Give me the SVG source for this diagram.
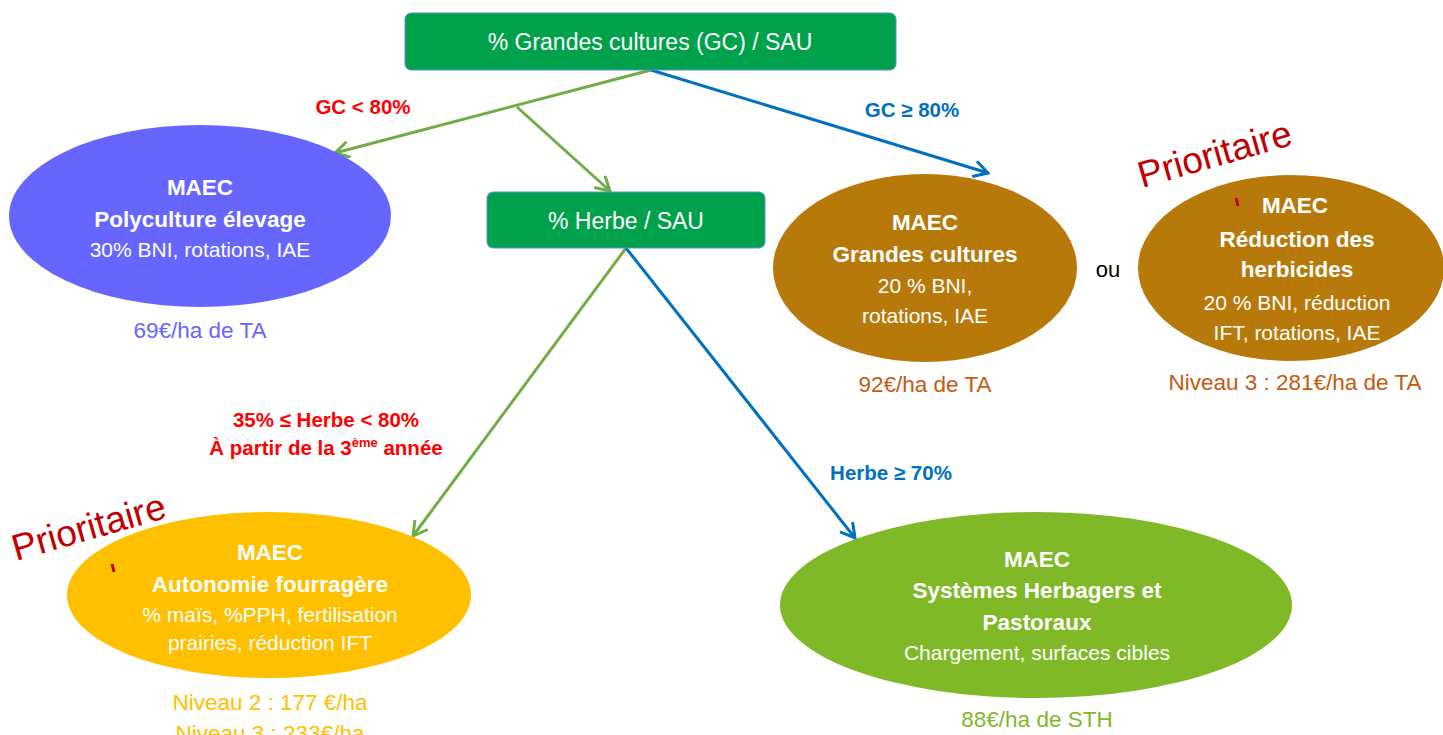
<svg xmlns="http://www.w3.org/2000/svg" width="1443" height="735" viewBox="0 0 1443 735">
<defs>
<style>
text{font-family:"Liberation Sans",Arial,sans-serif;text-anchor:middle}
.box{fill:#00a14b;stroke:#5b8fd0;stroke-width:1}
.boxt{fill:#fff;font-size:23px}
.b{fill:#fff;font-weight:bold;font-size:22.5px}
.r{fill:#fff;font-size:21px}
.price{font-size:22.5px}
.lab{font-weight:bold;font-size:20.5px}
.red{fill:#ff0000}
.blue{fill:#0070c0}
.prio{fill:#c00000;font-size:37px;text-anchor:start}
.g{stroke:#70ad47;stroke-width:3;fill:none}
.bl{stroke:#0070c0;stroke-width:3;fill:none}
</style>
<marker id="ag" viewBox="0 0 18 18" refX="16" refY="9" markerWidth="18" markerHeight="18" markerUnits="userSpaceOnUse" orient="auto">
<path d="M2,1 L16,9 L2,17" fill="none" stroke="#70ad47" stroke-width="3"/>
</marker>
<marker id="ab" viewBox="0 0 18 18" refX="16" refY="9" markerWidth="18" markerHeight="18" markerUnits="userSpaceOnUse" orient="auto">
<path d="M2,1 L16,9 L2,17" fill="none" stroke="#0070c0" stroke-width="3"/>
</marker>
</defs>
<rect width="1443" height="735" fill="#fff"/>
<g id="connectors">
<line class="g" x1="651" y1="70" x2="335" y2="153" marker-end="url(#ag)"/>
<line class="g" x1="517" y1="107" x2="610" y2="191" marker-end="url(#ag)"/>
<line class="bl" x1="651" y1="70" x2="988" y2="173" marker-end="url(#ab)"/>
<line class="g" x1="626" y1="248" x2="413" y2="536" marker-end="url(#ag)"/>
<line class="bl" x1="626" y1="248" x2="855" y2="538" marker-end="url(#ab)"/>
</g>
<g id="labels">
<text class="lab red" x="363" y="114">GC &lt; 80%</text>
<text class="lab blue" x="912" y="117">GC ≥ 80%</text>
<text class="lab red" x="326" y="427">35% ≤ Herbe &lt; 80%</text>
<text class="lab red" x="326" y="455">À partir de la 3<tspan font-size="13" dy="-8">ème</tspan><tspan dy="8"> année</tspan></text>
<text class="lab blue" x="891" y="480">Herbe ≥ 70%</text>
<text x="1108" y="277" font-size="22" fill="#000">ou</text>
</g>
<g id="n-gc">
<rect class="box" x="405" y="13" width="491" height="57" rx="6"/>
<text class="boxt" x="650" y="50">% Grandes cultures (GC) / SAU</text>
</g>
<g id="n-herbe">
<rect class="box" x="487" y="192" width="278" height="56" rx="6"/>
<text class="boxt" x="626" y="229">% Herbe / SAU</text>
</g>
<g id="n-poly">
<ellipse cx="200" cy="216" rx="191" ry="91" fill="#6666ff"/>
<text class="b" x="200" y="195">MAEC</text>
<text class="b" x="200" y="227">Polyculture élevage</text>
<text class="r" x="200" y="257">30% BNI, rotations, IAE</text>
<text class="price" x="200" y="338" fill="#6666ff">69€/ha de TA</text>
</g>
<g id="n-gcult">
<ellipse cx="925" cy="268" rx="152" ry="94" fill="#b8790b"/>
<text class="b" x="925" y="230">MAEC</text>
<text class="b" x="925" y="262">Grandes cultures</text>
<text class="r" x="925" y="293">20 % BNI,</text>
<text class="r" x="925" y="323">rotations, IAE</text>
<text class="price" x="925" y="392" fill="#c55a11">92€/ha de TA</text>
</g>
<g id="n-herbi">
<ellipse cx="1291" cy="268" rx="153" ry="93" fill="#b8790b"/>
<text class="b" x="1295" y="213">MAEC</text>
<text class="b" x="1297" y="247">Réduction des</text>
<text class="b" x="1297" y="277">herbicides</text>
<text class="r" x="1297" y="310">20 % BNI, réduction</text>
<text class="r" x="1297" y="340">IFT, rotations, IAE</text>
<text class="price" x="1295" y="390" fill="#c55a11">Niveau 3 : 281€/ha de TA</text>
<text class="prio" transform="translate(1142,188) rotate(-16)">Prioritaire</text>
<line x1="1236" y1="198" x2="1238" y2="206" stroke="#c00000" stroke-width="3"/>
</g>
<g id="n-auto">
<ellipse cx="269" cy="595" rx="202" ry="83" fill="#ffc000"/>
<text class="b" x="270" y="560">MAEC</text>
<text class="b" x="270" y="592">Autonomie fourragère</text>
<text class="r" x="270" y="622">% maïs, %PPH, fertilisation</text>
<text class="r" x="270" y="650">prairies, réduction IFT</text>
<text class="price" x="270" y="710" fill="#ffc000">Niveau 2 : 177 €/ha</text>
<text class="price" x="270" y="741" fill="#ffc000">Niveau 3 : 233€/ha</text>
<text class="prio" transform="translate(16,561) rotate(-16)">Prioritaire</text>
<line x1="112" y1="564" x2="114" y2="572" stroke="#c00000" stroke-width="3"/>
</g>
<g id="n-sth">
<ellipse cx="1036" cy="605" rx="256" ry="93" fill="#80b928"/>
<text class="b" x="1037" y="567">MAEC</text>
<text class="b" x="1037" y="598">Systèmes Herbagers et</text>
<text class="b" x="1037" y="630">Pastoraux</text>
<text class="r" x="1037" y="660">Chargement, surfaces cibles</text>
<text class="price" x="1037" y="727" fill="#80b928">88€/ha de STH</text>
</g>
</svg>
